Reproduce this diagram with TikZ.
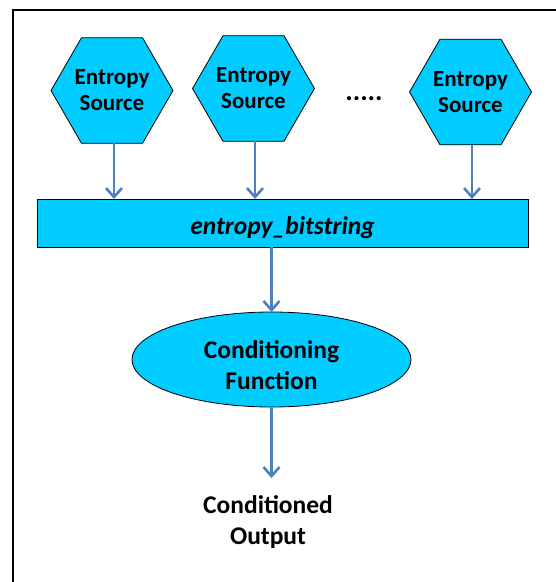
\documentclass[tikz,border=0pt]{standalone}
\usepackage{fontspec}
\setmainfont{Carlito}
\usetikzlibrary{shapes.geometric,arrows.meta}
\definecolor{fillcyan}{RGB}{0,204,255}
\definecolor{flowblue}{RGB}{79,129,189}
\begin{document}
\begin{tikzpicture}[x=1pt,y=-1pt,
  hexsrc/.style={regular polygon, regular polygon sides=6,
    minimum size=121pt, inner sep=0pt, outer sep=0pt, draw=black, line width=0.8pt,
    fill=fillcyan, align=center, font=\fontsize{23}{26}\selectfont\bfseries},
  barbox/.style={rectangle, draw=black, line width=0.8pt, fill=fillcyan,
    minimum width=491pt, minimum height=48pt, inner sep=0pt, outer sep=0pt},
  condfn/.style={ellipse, draw=black, line width=0.8pt, fill=fillcyan,
    minimum width=279pt, minimum height=95pt, inner sep=0pt, outer sep=0pt},
  bartext/.style={inner sep=0pt, font=\fontsize{25.5}{30}\selectfont\bfseries\itshape},
  plain/.style={align=center, inner sep=0pt, font=\fontsize{25.5}{31.5}\selectfont\bfseries},
  flow/.style={draw=flowblue, line width=2.6pt, -{Straight Barb[length=9pt,width=16pt]}}
]
  % canvas
  \useasboundingbox (0,0) rectangle (556,582);
  \fill[white] (0,0) rectangle (556,582);
  % frame: top and left edges
  \draw[line width=2.5pt] (13,582) -- (13,10) -- (556,10);

  % entropy sources
  \node[hexsrc] (s1) at (112,90.5) {Entropy\\Source};
  \node[hexsrc] (s2) at (253.5,88.5) {Entropy\\Source};
  \node[hexsrc] (s3) at (470.5,92) {Entropy\\Source};
  \node[font=\fontsize{28}{30}\selectfont\bfseries] (dots) at (364,99) {.....};

  % collected bitstring
  \node[barbox] (bar) at (282.5,223) {};
  \node[bartext] (bartxt) at ([yshift=-5pt]bar.center) {entropy\_bitstring};

  % conditioning stage
  \node[condfn] (cf) at (271.5,359.5) {};
  \node[plain] (cftxt) at ([yshift=-5.5pt]cf.center) {Conditioning\\Function};
  \node[plain] (out) at (268,522) {Conditioned\\Output};
  \coordinate (outtop) at (271,478);

  % connectors
  \draw[flow] ([xshift=2pt]s1.south) -- ([xshift=2pt]s1.south |- bar.north);
  \draw[flow] ([xshift=1.5pt]s2.south) -- ([xshift=1.5pt]s2.south |- bar.north);
  \draw[flow] ([xshift=1.5pt]s3.south) -- ([xshift=1.5pt]s3.south |- bar.north);
  \draw[flow] (cf.north |- bar.south) -- (cf.north);
  \draw[flow] (cf.south) -- (cf.south |- outtop);
\end{tikzpicture}
\end{document}
